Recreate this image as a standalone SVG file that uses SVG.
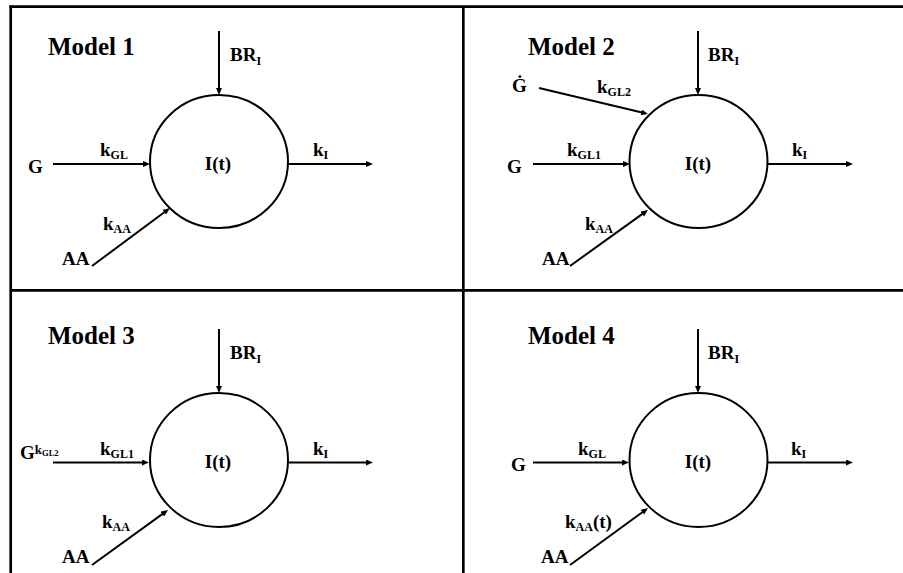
<svg xmlns="http://www.w3.org/2000/svg" width="903" height="573" viewBox="0 0 903 573">
<style>
.t{font-size:25px}
.l{font-size:19px}
.s{font-size:12px}
.c{text-anchor:middle}
.frame{stroke:#000;stroke-width:2.7;fill:none}
.node{fill:#fff;stroke:#000;stroke-width:2}
.arr{stroke:#000;stroke-width:2;fill:none;marker-end:url(#ah)}
</style>
<defs>
<marker id="ah" markerUnits="userSpaceOnUse" markerWidth="8" markerHeight="8" refX="2" refY="3" orient="auto">
<path d="M0,0 L7,3 L0,6 z" fill="#000"/>
</marker>
</defs>
<rect width="903" height="573" fill="#fff"/>
<g id="frame" class="frame">
<path d="M9.4,6.7 H903"/>
<path d="M10.7,5.4 V573"/>
<path d="M463.3,6.7 V573"/>
<path d="M10.7,290.3 H903"/>
</g>
<g id="connectors" class="arr">
<path d="M219,31 V90"/>
<path d="M53,164 H145"/>
<path d="M288,164 H368"/>
<path d="M92,266 L166,211"/>
<path d="M698,31 V90"/>
<path d="M539,88 L643.1,112.8"/>
<path d="M533,164 H625"/>
<path d="M767,164 H848"/>
<path d="M570,266 L643.9,212.9"/>
<path d="M219,329 V388"/>
<path d="M53,462.5 H144"/>
<path d="M288,462.5 H368"/>
<path d="M92,565 L164,512.9"/>
<path d="M698,329 V388"/>
<path d="M533,462.5 H624"/>
<path d="M767,462.5 H848"/>
<path d="M570,565 L644,511"/>
</g>
<g font-family="Liberation Serif, DejaVu Serif, serif" font-weight="bold" fill="#000">
<g id="model1">
<text class="t" x="48" y="55">Model 1</text>
<ellipse class="node" cx="219" cy="161.5" rx="69" ry="66.5"/>
<text class="l c" x="218" y="170">I(t)</text>
<text class="l" x="230" y="61">BR<tspan class="s" dy="4">I</tspan></text>
<text class="l" x="28" y="173">G</text>
<text class="l" x="100" y="156">k<tspan class="s" dy="3">GL</tspan></text>
<text class="l" x="313" y="156">k<tspan class="s" dy="3">I</tspan></text>
<text class="l" x="62" y="265">AA</text>
<text class="l" x="103" y="230">k<tspan class="s" dy="3">AA</tspan></text>
</g>
<g id="model2">
<text class="t" x="528" y="55">Model 2</text>
<ellipse class="node" cx="698.5" cy="161.5" rx="69" ry="66.5"/>
<text class="l c" x="698" y="170">I(t)</text>
<text class="l" x="708" y="61">BR<tspan class="s" dy="4">I</tspan></text>
<text class="l" x="512" y="92">Ġ</text>
<text class="l" x="597" y="93">k<tspan class="s" dy="3">GL2</tspan></text>
<text class="l" x="507" y="173">G</text>
<text class="l" x="567" y="156">k<tspan class="s" dy="3">GL1</tspan></text>
<text class="l" x="792" y="156">k<tspan class="s" dy="3">I</tspan></text>
<text class="l" x="542" y="265">AA</text>
<text class="l" x="585" y="230">k<tspan class="s" dy="3">AA</tspan></text>
</g>
<g id="model3">
<text class="t" x="48" y="344">Model 3</text>
<ellipse class="node" cx="219" cy="460" rx="69" ry="67"/>
<text class="l c" x="218" y="468">I(t)</text>
<text class="l" x="230" y="359">BR<tspan class="s" dy="4">I</tspan></text>
<text class="l" x="20" y="459">G<tspan font-size="13" dy="-5">k</tspan><tspan font-size="8.5" dy="1.5">GL2</tspan></text>
<text class="l" x="100" y="455">k<tspan class="s" dy="3">GL1</tspan></text>
<text class="l" x="313" y="455">k<tspan class="s" dy="3">I</tspan></text>
<text class="l" x="62" y="563">AA</text>
<text class="l" x="102" y="528">k<tspan class="s" dy="3">AA</tspan></text>
</g>
<g id="model4">
<text class="t" x="528" y="344">Model 4</text>
<ellipse class="node" cx="698.5" cy="460" rx="69" ry="67"/>
<text class="l c" x="698" y="468">I(t)</text>
<text class="l" x="708" y="359">BR<tspan class="s" dy="4">I</tspan></text>
<text class="l" x="511" y="471">G</text>
<text class="l" x="578" y="455">k<tspan class="s" dy="3">GL</tspan></text>
<text class="l" x="791" y="455">k<tspan class="s" dy="3">I</tspan></text>
<text class="l" x="541" y="563">AA</text>
<text class="l" x="565" y="528">k<tspan class="s" dy="3">AA</tspan><tspan dy="-3">(t)</tspan></text>
</g>
</g>
</svg>
